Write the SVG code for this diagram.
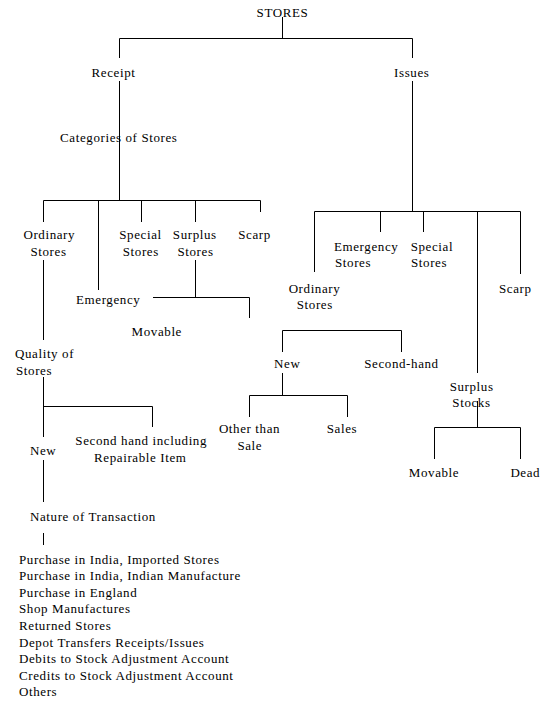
<svg xmlns="http://www.w3.org/2000/svg" width="553" height="709" viewBox="0 0 553 709">
<style>
text{font-family:"Liberation Serif","Times New Roman",serif;font-size:13px;letter-spacing:0.6px;fill:#000}
.m{text-anchor:middle}
#connectors line{stroke:#000;stroke-width:1;fill:none}
</style>
<rect width="553" height="709" fill="#fff"/>
<g id="connectors">
<line x1="282.5" y1="17" x2="282.5" y2="38.5"/>
<line x1="119.5" y1="38.5" x2="412.5" y2="38.5"/>
<line x1="119.5" y1="38.5" x2="119.5" y2="58"/>
<line x1="412.5" y1="38.5" x2="412.5" y2="58"/>
<line x1="119.5" y1="81" x2="119.5" y2="200.5"/>
<line x1="43.5" y1="200.5" x2="260.5" y2="200.5"/>
<line x1="43.5" y1="200.5" x2="43.5" y2="222"/>
<line x1="98.5" y1="200.5" x2="98.5" y2="290"/>
<line x1="141.5" y1="200.5" x2="141.5" y2="222"/>
<line x1="195.5" y1="200.5" x2="195.5" y2="222"/>
<line x1="260.5" y1="200.5" x2="260.5" y2="212"/>
<line x1="43.5" y1="260" x2="43.5" y2="340"/>
<line x1="195.5" y1="260" x2="195.5" y2="297.5"/>
<line x1="153" y1="297.5" x2="249.5" y2="297.5"/>
<line x1="249.5" y1="297.5" x2="249.5" y2="318"/>
<line x1="43.5" y1="377" x2="43.5" y2="437"/>
<line x1="43.5" y1="406.5" x2="152.5" y2="406.5"/>
<line x1="152.5" y1="406.5" x2="152.5" y2="427"/>
<line x1="43.5" y1="460" x2="43.5" y2="502"/>
<line x1="43.5" y1="533" x2="43.5" y2="545"/>
<line x1="412.5" y1="81" x2="412.5" y2="211.5"/>
<line x1="314.5" y1="211.5" x2="520.5" y2="211.5"/>
<line x1="314.5" y1="211.5" x2="314.5" y2="272"/>
<line x1="380.5" y1="211.5" x2="380.5" y2="232"/>
<line x1="423.5" y1="211.5" x2="423.5" y2="232"/>
<line x1="477.5" y1="211.5" x2="477.5" y2="373"/>
<line x1="520.5" y1="211.5" x2="520.5" y2="274"/>
<line x1="282.5" y1="330.5" x2="401.5" y2="330.5"/>
<line x1="282.5" y1="330.5" x2="282.5" y2="352"/>
<line x1="401.5" y1="330.5" x2="401.5" y2="352"/>
<line x1="282.5" y1="373" x2="282.5" y2="395.5"/>
<line x1="249.5" y1="395.5" x2="347.5" y2="395.5"/>
<line x1="249.5" y1="395.5" x2="249.5" y2="417"/>
<line x1="347.5" y1="395.5" x2="347.5" y2="417"/>
<line x1="477.5" y1="401" x2="477.5" y2="427.5"/>
<line x1="434.5" y1="427.5" x2="520.5" y2="427.5"/>
<line x1="434.5" y1="427.5" x2="434.5" y2="459"/>
<line x1="520.5" y1="427.5" x2="520.5" y2="459"/>
</g>
<g id="stores"><text class="m" x="282.5" y="17">STORES</text></g>
<g id="receipt"><text class="m" x="113.5" y="77">Receipt</text></g>
<g id="issues"><text class="m" x="411.8" y="77">Issues</text></g>
<g id="categories"><text class="m" x="118.8" y="142">Categories of Stores</text></g>
<g id="r-ordinary"><text class="m" x="49.3" y="239">Ordinary</text><text class="m" x="48.5" y="256">Stores</text></g>
<g id="r-special"><text class="m" x="140.5" y="239">Special</text><text class="m" x="140.8" y="256">Stores</text></g>
<g id="r-surplus"><text class="m" x="194.8" y="239">Surplus</text><text class="m" x="195.5" y="256">Stores</text></g>
<g id="r-scarp"><text class="m" x="254.6" y="239">Scarp</text></g>
<g id="r-emergency"><text class="m" x="108.2" y="303.5">Emergency</text></g>
<g id="r-movable"><text class="m" x="156.8" y="336">Movable</text></g>
<g id="quality"><text x="15" y="357.5">Quality of</text><text x="16" y="375">Stores</text></g>
<g id="q-new"><text x="30" y="455">New</text></g>
<g id="q-secondhand"><text class="m" x="141.2" y="445">Second hand including</text><text class="m" x="140.3" y="461.7">Repairable Item</text></g>
<g id="nature"><text x="30" y="520.7">Nature of Transaction</text></g>
<g id="transactions">
<text x="19" y="563.5">Purchase in India, Imported Stores</text>
<text x="19" y="580">Purchase in India, Indian Manufacture</text>
<text x="19" y="596.7">Purchase in England</text>
<text x="19" y="613.3">Shop Manufactures</text>
<text x="19" y="630">Returned Stores</text>
<text x="19" y="646.5">Depot Transfers Receipts/Issues</text>
<text x="19" y="663">Debits to Stock Adjustment Account</text>
<text x="19" y="679.5">Credits to Stock Adjustment Account</text>
<text x="19" y="696">Others</text>
</g>
<g id="i-emergency"><text x="334" y="250.7">Emergency</text><text x="335" y="266.7">Stores</text></g>
<g id="i-special"><text x="410.7" y="250.7">Special</text><text x="411" y="266.7">Stores</text></g>
<g id="i-ordinary"><text class="m" x="314.5" y="293.3">Ordinary</text><text class="m" x="314.8" y="309.3">Stores</text></g>
<g id="i-scarp"><text x="499" y="293.3">Scarp</text></g>
<g id="i-new"><text class="m" x="287.3" y="368.3">New</text></g>
<g id="i-secondhand"><text class="m" x="401.5" y="368.3">Second-hand</text></g>
<g id="i-othersale"><text class="m" x="249.5" y="433.3">Other than</text><text class="m" x="249.8" y="450">Sale</text></g>
<g id="i-sales"><text class="m" x="342" y="433.3">Sales</text></g>
<g id="i-surplus"><text class="m" x="471.6" y="390.7">Surplus</text><text class="m" x="471.5" y="407.3">Stocks</text></g>
<g id="i-movable"><text class="m" x="434" y="477.3">Movable</text></g>
<g id="i-dead"><text class="m" x="525.3" y="477.3">Dead</text></g>
</svg>
